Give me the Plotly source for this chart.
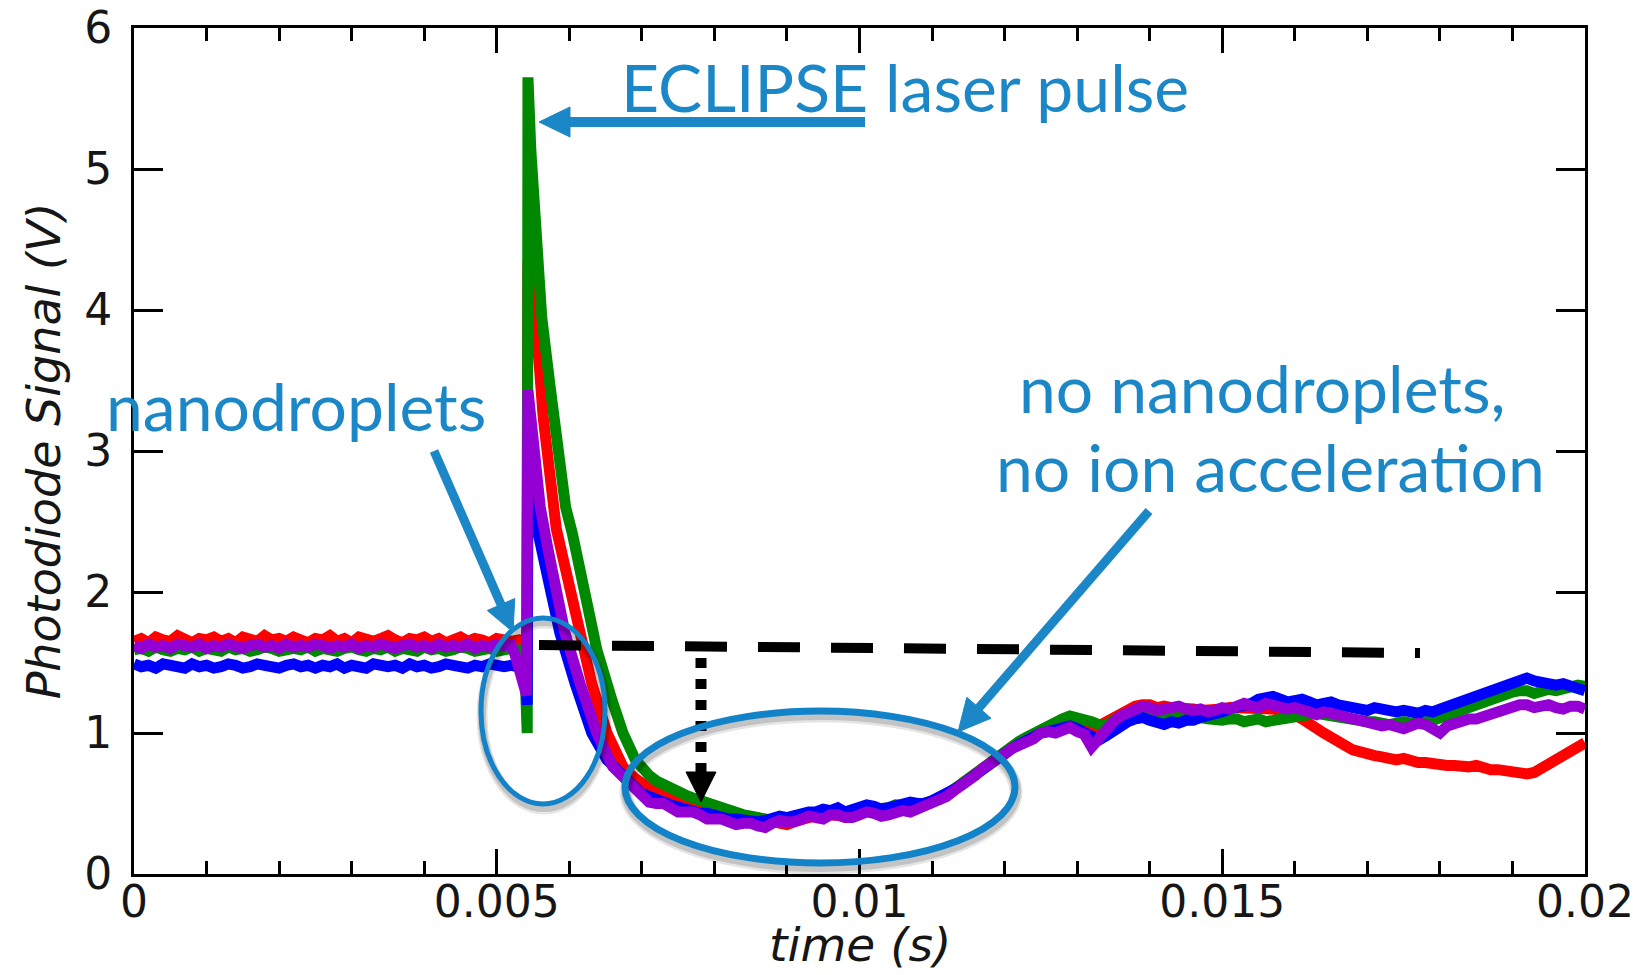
import math
import plotly.graph_objects as go

# ---------------- data (time in ms, signal in V) ----------------
t_pre = [0.0, 0.1, 0.2, 0.3, 0.4, 0.5, 0.6, 0.7, 0.8, 0.9,
         1.0, 1.1, 1.2, 1.3, 1.4, 1.5, 1.6, 1.7, 1.8, 1.9,
         2.0, 2.1, 2.2, 2.3, 2.4, 2.5, 2.6, 2.7, 2.8, 2.9,
         3.0, 3.1, 3.2, 3.3, 3.4, 3.5, 3.6, 3.7, 3.8, 3.9,
         4.0, 4.1, 4.2, 4.3, 4.4, 4.5, 4.6, 4.7, 4.8, 4.9,
         5.0, 5.1, 5.2]

red_pre = [1.65, 1.67, 1.64, 1.68, 1.66, 1.65, 1.69, 1.66, 1.64, 1.67,
           1.66, 1.68, 1.65, 1.67, 1.64, 1.68, 1.66, 1.65, 1.69, 1.66,
           1.67, 1.65, 1.68, 1.66, 1.64, 1.67, 1.66, 1.69, 1.65, 1.67,
           1.64, 1.68, 1.66, 1.65, 1.67, 1.69, 1.66, 1.64, 1.67, 1.66,
           1.68, 1.65, 1.67, 1.64, 1.66, 1.68, 1.65, 1.67, 1.66, 1.64,
           1.67, 1.66, 1.65]
green_pre = [1.59, 1.60, 1.58, 1.61, 1.59, 1.58, 1.60, 1.59, 1.61, 1.58,
             1.60, 1.59, 1.58, 1.61, 1.59, 1.60, 1.58, 1.59, 1.61, 1.60,
             1.58, 1.59, 1.60, 1.59, 1.61, 1.58, 1.60, 1.59, 1.58, 1.60,
             1.61, 1.59, 1.58, 1.60, 1.59, 1.61, 1.58, 1.60, 1.59, 1.58,
             1.61, 1.59, 1.60, 1.58, 1.59, 1.61, 1.60, 1.58, 1.59, 1.60,
             1.58, 1.59, 1.60]
blue_pre = [1.49, 1.47, 1.48, 1.46, 1.49, 1.48, 1.47, 1.46, 1.49, 1.47,
            1.48, 1.46, 1.47, 1.49, 1.48, 1.46, 1.47, 1.49, 1.48, 1.47,
            1.46, 1.48, 1.49, 1.47, 1.48, 1.46, 1.48, 1.47, 1.49, 1.46,
            1.48, 1.47, 1.46, 1.49, 1.48, 1.47, 1.48, 1.46, 1.49, 1.47,
            1.48, 1.46, 1.47, 1.49, 1.48, 1.47, 1.46, 1.48, 1.47, 1.49,
            1.48, 1.47, 1.48]
purple_pre = [1.62, 1.60, 1.63, 1.61, 1.62, 1.60, 1.63, 1.62, 1.61, 1.63,
              1.60, 1.62, 1.61, 1.63, 1.62, 1.60, 1.62, 1.63, 1.61, 1.62,
              1.60, 1.63, 1.61, 1.62, 1.61, 1.63, 1.62, 1.60, 1.62, 1.61,
              1.63, 1.60, 1.62, 1.61, 1.63, 1.62, 1.60, 1.62, 1.63, 1.61,
              1.62, 1.60, 1.63, 1.61, 1.62, 1.61, 1.63, 1.60, 1.62, 1.61,
              1.63, 1.62, 1.62]

red_t_spk = [5.30, 5.36, 5.41, 5.43, 5.48, 5.57, 5.64, 5.73, 5.82, 5.94, 6.15, 6.31, 6.52, 6.74, 6.90]
red_v_spk = [1.66, 1.63, 1.30, 4.35, 4.00, 3.72, 3.24, 2.77, 2.45, 2.18, 1.71, 1.35, 1.00, 0.76, 0.68]
green_t_spk = [5.30, 5.38, 5.42, 5.43, 5.47, 5.555, 5.62, 5.73, 5.84, 5.95, 6.04, 6.24, 6.38, 6.59, 6.74, 6.91]
green_v_spk = [1.59, 1.56, 1.00, 5.65, 5.13, 4.43, 3.95, 3.48, 3.00, 2.60, 2.42, 1.94, 1.59, 1.23, 1.00, 0.81]
blue_t_spk = [5.30, 5.36, 5.40, 5.42, 5.43, 5.50, 5.57, 5.67, 5.87, 6.08, 6.31, 6.52, 6.84]
blue_v_spk = [1.47, 1.44, 1.36, 1.20, 2.77, 2.53, 2.42, 2.18, 1.71, 1.35, 1.00, 0.81, 0.65]
purple_t_spk = [5.25, 5.30, 5.36, 5.41, 5.43, 5.50, 5.60, 5.70, 5.80, 5.94, 6.15, 6.38, 6.60, 6.80, 6.93]
purple_v_spk = [1.56, 1.46, 1.31, 1.27, 3.43, 3.00, 2.60, 2.32, 2.08, 1.71, 1.35, 1.00, 0.76, 0.65, 0.58]

t_slow = [7.0, 7.1, 7.2, 7.3, 7.4, 7.5, 7.6, 7.7, 7.8, 7.9,
          8.0, 8.1, 8.2, 8.3, 8.4, 8.5, 8.6, 8.7, 8.8, 8.9,
          9.0, 9.1, 9.2, 9.3, 9.4, 9.5, 9.6, 9.7, 9.8, 9.9,
          10.0, 10.1, 10.2, 10.3, 10.4, 10.5, 10.6, 10.7, 10.8, 10.9,
          11.0, 11.1, 11.2, 11.3, 11.4, 11.5, 11.6, 11.7, 11.8, 11.9,
          12.0, 12.1, 12.2, 12.3, 12.4, 12.5, 12.6, 12.7, 12.8, 12.9,
          13.0, 13.1, 13.2, 13.3, 13.4, 13.5, 13.6, 13.7, 13.8, 13.9,
          14.0, 14.1, 14.2, 14.3, 14.4, 14.5, 14.6, 14.7, 14.8, 14.9,
          15.0, 15.1, 15.2, 15.3, 15.4, 15.5, 15.6, 15.7, 15.8, 15.9,
          16.0, 16.1, 16.2, 16.3, 16.4, 16.5, 16.6, 16.7, 16.8, 16.9,
          17.0, 17.1, 17.2, 17.3, 17.4, 17.5, 17.6, 17.7, 17.8, 17.9,
          18.0, 18.1, 18.2, 18.3, 18.4, 18.5, 18.6, 18.7, 18.8, 18.9,
          19.0, 19.1, 19.2, 19.3, 19.4, 19.5, 19.6, 19.7, 19.8, 19.9,
          20.0]
red_slow = [0.64, 0.61, 0.59, 0.57, 0.55, 0.53, 0.51, 0.49, 0.48, 0.47,
            0.46, 0.44, 0.44, 0.42, 0.41, 0.41, 0.40, 0.38, 0.38, 0.36,
            0.35, 0.37, 0.39, 0.40, 0.41, 0.43, 0.42, 0.41, 0.41, 0.42,
            0.43, 0.45, 0.44, 0.42, 0.43, 0.45, 0.46, 0.45, 0.47, 0.48,
            0.50, 0.53, 0.56, 0.60, 0.64, 0.68, 0.72, 0.76, 0.80, 0.84,
            0.87, 0.90, 0.93, 0.96, 0.98, 1.01, 1.03, 1.05, 1.05, 1.06,
            1.05, 1.04, 1.03, 1.05, 1.08, 1.12, 1.15, 1.17, 1.19, 1.20,
            1.20, 1.18, 1.19, 1.18, 1.18, 1.17, 1.17, 1.16, 1.16, 1.17,
            1.17, 1.18, 1.18, 1.17, 1.18, 1.18, 1.17, 1.17, 1.16, 1.15,
            1.13, 1.10, 1.06, 1.03, 1.00, 0.97, 0.95, 0.91, 0.88, 0.86,
            0.85, 0.84, 0.83, 0.82, 0.81, 0.82, 0.80, 0.79, 0.79, 0.78,
            0.78, 0.77, 0.77, 0.76, 0.76, 0.77, 0.75, 0.74, 0.74, 0.73,
            0.72, 0.71, 0.71, 0.72, 0.75, 0.77, 0.80, 0.83, 0.87, 0.90,
            0.93]
green_slow = [0.75, 0.70, 0.66, 0.63, 0.61, 0.58, 0.56, 0.54, 0.52, 0.50,
              0.48, 0.46, 0.45, 0.43, 0.42, 0.41, 0.40, 0.40, 0.39, 0.37,
              0.38, 0.40, 0.41, 0.43, 0.42, 0.43, 0.44, 0.45, 0.43, 0.44,
              0.45, 0.47, 0.46, 0.46, 0.47, 0.49, 0.48, 0.48, 0.49, 0.50,
              0.51, 0.53, 0.56, 0.60, 0.63, 0.68, 0.72, 0.76, 0.80, 0.84,
              0.87, 0.91, 0.94, 0.97, 1.00, 1.03, 1.06, 1.09, 1.10, 1.12,
              1.11, 1.10, 1.08, 1.06, 1.05, 1.09, 1.12, 1.15, 1.16, 1.15,
              1.14, 1.13, 1.12, 1.12, 1.11, 1.10, 1.10, 1.11, 1.10, 1.09,
              1.09, 1.10, 1.10, 1.08, 1.09, 1.10, 1.08, 1.09, 1.10, 1.11,
              1.12, 1.12, 1.13, 1.14, 1.13, 1.12, 1.12, 1.11, 1.10, 1.09,
              1.08, 1.08, 1.07, 1.06, 1.07, 1.08, 1.07, 1.07, 1.08, 1.09,
              1.11, 1.13, 1.15, 1.17, 1.19, 1.20, 1.21, 1.23, 1.25, 1.27,
              1.29, 1.30, 1.30, 1.28, 1.29, 1.31, 1.30, 1.31, 1.32, 1.34,
              1.33]
blue_slow = [0.57, 0.55, 0.52, 0.51, 0.49, 0.47, 0.46, 0.45, 0.43, 0.43,
             0.41, 0.40, 0.39, 0.39, 0.38, 0.37, 0.37, 0.38, 0.39, 0.41,
             0.40, 0.42, 0.42, 0.44, 0.44, 0.46, 0.45, 0.47, 0.44, 0.46,
             0.47, 0.49, 0.48, 0.46, 0.47, 0.49, 0.49, 0.51, 0.50, 0.50,
             0.52, 0.54, 0.57, 0.60, 0.63, 0.67, 0.71, 0.75, 0.79, 0.82,
             0.86, 0.89, 0.92, 0.95, 0.97, 1.00, 1.01, 1.03, 1.04, 1.05,
             1.03, 1.00, 0.97, 0.95, 0.98, 1.02, 1.05, 1.08, 1.10, 1.11,
             1.09, 1.07, 1.06, 1.08, 1.07, 1.09, 1.09, 1.11, 1.12, 1.14,
             1.15, 1.17, 1.18, 1.20, 1.21, 1.24, 1.25, 1.26, 1.24, 1.22,
             1.23, 1.24, 1.22, 1.20, 1.21, 1.22, 1.20, 1.19, 1.18, 1.17,
             1.16, 1.18, 1.17, 1.15, 1.15, 1.16, 1.15, 1.14, 1.16, 1.15,
             1.17, 1.19, 1.21, 1.23, 1.25, 1.27, 1.29, 1.31, 1.33, 1.35,
             1.37, 1.39, 1.39, 1.37, 1.36, 1.35, 1.34, 1.35, 1.33, 1.32,
             1.30]
purple_slow = [0.55, 0.51, 0.50, 0.50, 0.47, 0.44, 0.44, 0.44, 0.42, 0.39,
               0.39, 0.39, 0.37, 0.35, 0.36, 0.36, 0.34, 0.33, 0.36, 0.38,
               0.37, 0.37, 0.39, 0.41, 0.40, 0.39, 0.42, 0.42, 0.40, 0.40,
               0.42, 0.44, 0.43, 0.41, 0.42, 0.44, 0.45, 0.44, 0.46, 0.48,
               0.49, 0.51, 0.55, 0.59, 0.62, 0.65, 0.70, 0.75, 0.78, 0.80,
               0.85, 0.89, 0.91, 0.93, 0.96, 1.00, 1.01, 1.00, 1.03, 1.04,
               1.01, 0.99, 0.90, 0.97, 1.03, 1.08, 1.12, 1.15, 1.17, 1.19,
               1.18, 1.16, 1.17, 1.19, 1.19, 1.17, 1.16, 1.17, 1.15, 1.16,
               1.18, 1.17, 1.20, 1.21, 1.19, 1.18, 1.21, 1.20, 1.18, 1.17,
               1.18, 1.17, 1.15, 1.13, 1.15, 1.14, 1.12, 1.10, 1.10, 1.09,
               1.07, 1.05, 1.05, 1.06, 1.04, 1.03, 1.05, 1.07, 1.06, 1.03,
               1.00, 1.05, 1.07, 1.09, 1.10, 1.10, 1.12, 1.14, 1.15, 1.16,
               1.18, 1.20, 1.20, 1.18, 1.19, 1.20, 1.18, 1.17, 1.19, 1.19,
               1.17]

x_title = "time (s)"
y_title = "Photodiode Signal (V)"

series = [
    ("red", "#ff0000", red_pre, red_t_spk, red_v_spk, red_slow),
    ("green", "#008800", green_pre, green_t_spk, green_v_spk, green_slow),
    ("blue", "#0000ff", blue_pre, blue_t_spk, blue_v_spk, blue_slow),
    ("purple", "#9400d3", purple_pre, purple_t_spk, purple_v_spk, purple_slow),
]

# ---------------- figure ----------------
W, H = 1646, 975
L, R, T, B = 134, 1585, 28, 874

fig = go.Figure()
for name, col, pre, ts, vs, slow in series:
    t_all = t_pre + ts + t_slow
    v_all = pre + vs + slow
    fig.add_trace(go.Scatter(
        x=[t / 1000.0 for t in t_all], y=v_all, mode="lines", name=name,
        line=dict(color=col, width=11), showlegend=False, hoverinfo="skip"))


def pp(px, py):
    return (px - L) / (R - L), (B - py) / (B - T)


shapes = []
BLUE = "#1b87c6"
ELL = "#1283c9"


def line_px(x0, y0, x1, y1, color, width, dash="solid"):
    a = pp(x0, y0)
    b = pp(x1, y1)
    shapes.append(dict(type="line", xref="paper", yref="paper",
                       x0=a[0], y0=a[1], x1=b[0], y1=b[1],
                       line=dict(color=color, width=width, dash=dash), layer="above"))


def tri_px(pts, color):
    s = "M " + " L ".join("%.5f,%.5f" % pp(x, y) for x, y in pts) + " Z"
    shapes.append(dict(type="path", xref="paper", yref="paper", path=s,
                       fillcolor=color, line=dict(color=color, width=1), layer="above"))


def arrow_px(x0, y0, x1, y1, color, width, hl, hw):
    dx, dy = x1 - x0, y1 - y0
    n = math.hypot(dx, dy)
    ux, uy = dx / n, dy / n
    bx, by = x1 - ux * hl, y1 - uy * hl
    line_px(x0, y0, bx + ux * 2, by + uy * 2, color, width)
    nx, ny = -uy, ux
    tri_px([(x1, y1), (bx + nx * hw, by + ny * hw), (bx - nx * hw, by - ny * hw)], color)


def ellipse_px(cx, cy, rx, ry, color, width):
    for off, alpha, extra in [(5, 0.10, 6), (4, 0.15, 3)]:
        a = pp(cx - rx + 1, cy - ry + off)
        b = pp(cx + rx + 1, cy + ry + off)
        shapes.append(dict(type="circle", xref="paper", yref="paper",
                           x0=a[0], y0=a[1], x1=b[0], y1=b[1],
                           line=dict(color="rgba(0,0,0,%.2f)" % alpha, width=width + extra),
                           layer="above"))
    a = pp(cx - rx, cy - ry)
    b = pp(cx + rx, cy + ry)
    shapes.append(dict(type="circle", xref="paper", yref="paper",
                       x0=a[0], y0=a[1], x1=b[0], y1=b[1],
                       line=dict(color=color, width=width), layer="above"))


# dashed baseline and dotted drop arrow
line_px(539, 645, 1420, 653, "black", 10, "42px,31px")
line_px(701, 658, 701, 773, "black", 11, "10px,11px")
tri_px([(686, 772), (716, 772), (701, 802)], "black")

# ellipses
ellipse_px(543, 711, 62, 93, ELL, 5)
ellipse_px(820, 787, 195, 76, ELL, 7)

# blue arrows
arrow_px(865, 122, 539, 122, BLUE, 10, 31, 15)
arrow_px(434, 451, 513, 632, BLUE, 9, 30, 15)
arrow_px(1149, 511, 958, 732, BLUE, 9, 32, 16)

annots = []


def text_px(txt, cx, cy, size=66, family="Lato", color=BLUE, style="normal"):
    x, y = pp(cx, cy)
    annots.append(dict(text=txt, x=x, y=y, xref="paper", yref="paper",
                       xanchor="center", yanchor="middle", showarrow=False,
                       font=dict(family=family, size=size, color=color, style=style)))


text_px("ECLIPSE laser pulse", 905, 86)
text_px("nanodroplets", 296, 405)
text_px("no nanodroplets,", 1262, 387)
text_px("no ion acceleration", 1270, 466)
text_px(x_title, 860, 944, size=47, family="DejaVu Sans", color="#161616", style="italic")

tickfont = dict(family="DejaVu Sans", size=44, color="#161616")
ytitlefont = dict(family="DejaVu Sans", size=46, color="#161616", style="italic")

fig.update_layout(
    width=W, height=H,
    margin=dict(l=L, r=W - R, t=T, b=H - B, autoexpand=False),
    paper_bgcolor="white", plot_bgcolor="white",
    shapes=shapes, annotations=annots,
    xaxis=dict(range=[0, 0.02], tick0=0, dtick=0.005, ticks="inside", ticklen=25,
               tickwidth=2.5, tickcolor="black", showline=True, linewidth=3,
               linecolor="black", mirror="allticks", showgrid=False, zeroline=False,
               tickfont=tickfont, ticklabelstandoff=-13,
               minor=dict(dtick=0.001, ticks="inside", ticklen=13, tickwidth=2.5,
                          tickcolor="black", showgrid=False)),
    yaxis=dict(range=[0, 6], tick0=0, dtick=1, ticks="inside", ticklen=29,
               tickwidth=2.5, tickcolor="black", showline=True, linewidth=3,
               linecolor="black", mirror="allticks", showgrid=False, zeroline=False,
               tickfont=tickfont, ticklabelstandoff=10,
               title=dict(text=y_title, font=ytitlefont, standoff=10)),
)

fig.write_html("out.html")
